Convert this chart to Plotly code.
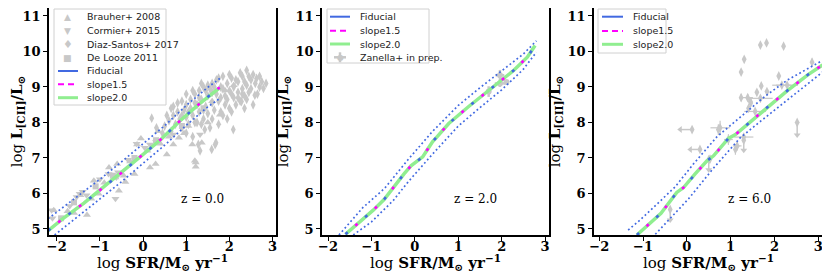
import plotly.graph_objects as go

# The page body keeps the browser's default 8px margin, so the figure is sized
# to fill the remaining 822x269 of the 830x277 window.
OFF = 8
W, H = 830 - OFF, 277 - OFF
GRAY = "#c8c8c8"
BLUE = "#4169E1"
MAG = "#FF00FF"
GREEN = "#90EE90"

# ---------------- model curves ----------------
# z = 0
mx0 = [-2.2, -1.85, -1.37, -0.93, -0.47, -0.02, 0.43, 0.84, 1.29, 1.74, 1.78]
my0 = [4.95, 5.30, 5.73, 6.16, 6.61, 7.08, 7.54, 8.03, 8.51, 8.96, 8.98]
ux0 = [-2.2, -1.5, -1.0, -0.5, 0.0, 0.5, 1.0, 1.5, 1.78]
uy0 = [5.29, 5.93, 6.40, 6.89, 7.40, 7.91, 8.48, 8.99, 9.24]
lx0 = [-2.05, -1.5, -1.0, -0.5, 0.0, 0.5, 1.0, 1.5, 1.78]
ly0 = [4.83, 5.36, 5.84, 6.33, 6.85, 7.36, 7.92, 8.44, 8.68]
# z = 2
mx2 = [-1.60, -1.14, -0.96, -0.71, -0.58, -0.35, -0.25, -0.09, 0.04, 0.18, 0.29,
       0.41, 0.52, 0.78, 1.24, 1.75, 2.28, 2.59, 2.77]
my2 = [4.85, 5.33, 5.53, 5.83, 6.04, 6.39, 6.55, 6.78, 6.90, 7.03, 7.24,
       7.46, 7.61, 7.97, 8.45, 8.95, 9.47, 9.84, 10.17]
ux2 = [-1.75, -1.2, -0.7, -0.16, 0.4, 1.0, 1.5, 2.0, 2.5, 2.8]
uy2 = [4.83, 5.60, 6.14, 6.95, 7.74, 8.48, 8.98, 9.45, 9.93, 10.30]
lx2 = [-1.42, -1.0, -0.5, -0.16, 0.4, 1.0, 1.5, 2.0, 2.5, 2.8]
ly2 = [4.83, 5.20, 5.80, 6.32, 7.10, 7.90, 8.42, 8.92, 9.50, 9.98]
# z = 6
mx6 = [-1.14, -1.02, -0.59, -0.23, -0.08, 0.19, 0.46, 0.61, 0.95, 1.11, 1.41,
       1.86, 2.29, 2.77, 3.1]
my6 = [4.83, 4.97, 5.44, 6.03, 6.16, 6.55, 6.92, 7.06, 7.55, 7.66, 7.98,
       8.45, 8.89, 9.35, 9.62]
ux6 = [-1.34, -1.07, -0.27, 0.15, 0.69, 1.22, 1.8, 2.29, 3.1]
uy6 = [4.97, 5.25, 6.18, 6.83, 7.60, 8.15, 8.75, 9.19, 9.75]
lx6 = [-0.72, 0.04, 0.6, 1.22, 1.7, 2.25, 2.7, 3.1]
ly6 = [4.85, 5.85, 6.70, 7.57, 8.05, 8.59, 9.02, 9.42]

# ---------------- observations, z = 0 ----------------
brauher_x = [-2.07, -1.30, -1.45, -1.14, -0.79, -0.60, -0.41, -0.56, -0.14, 0.29, 1.22,
             1.22, 0.83, 1.14, -1.03, -0.64, 1.20, 1.36, 1.78, 0.70, 0.16, -1.75, -1.6,
             -0.9, -0.3, -0.2, 0.1, 0.4, 0.55, 0.95, 1.05, -1.2, -0.45, 0.6, 1.5,
             1.6, 1.9, 2.1, 0.35, -0.05]
brauher_y = [5.53, 5.39, 5.95, 6.36, 6.73, 6.83, 6.32, 6.08, 7.38, 6.83, 6.87,
             6.75, 7.57, 7.38, 5.99, 6.45, 6.92, 7.43, 8.22, 7.38, 6.73, 5.50, 5.45,
             6.30, 6.90, 6.55, 7.20, 7.40, 7.10, 7.70, 7.90, 5.85, 6.50, 7.60, 8.00,
             8.60, 8.90, 9.05, 7.75, 7.55]
cormier_x = [-2.12, -2.10, -1.47, -1.54, -1.31, -0.62, -0.58, 0.04, 0.16, 0.70, 1.32,
             -0.15, -0.64, -1.4, -1.7, -1.0, -0.8, -0.35, 0.3]
cormier_y = [5.53, 5.30, 5.99, 5.90, 5.95, 6.45, 6.60, 7.29, 7.38, 7.66, 7.66,
             7.40, 5.85, 6.05, 5.65, 6.40, 6.55, 6.95, 7.45]
diaz_x = [0.2, 0.31, 0.45, 0.5, 0.6, 0.65, 0.7, 0.75, 0.8, 0.85, 0.9, 0.95, 1.0, 1.0,
          1.05, 1.1, 1.1, 1.15, 1.2, 1.2, 1.25, 1.3, 1.3, 1.35, 1.4, 1.4, 1.45, 1.5,
          1.5, 1.55, 1.6, 1.6, 1.65, 1.7, 1.7, 1.75, 1.8, 1.8, 1.85, 1.9, 1.9, 1.95,
          2.0, 2.0, 2.05, 2.1, 2.1, 2.15, 2.2, 2.2, 2.25, 2.3, 2.3, 2.35, 2.4, 2.4,
          2.45, 2.5, 2.55, 2.59, 2.63, 2.7, 2.79, 2.28, 2.09, 1.32, 1.59, 1.69, 1.43,
          1.55, 1.28, 1.67, 0.9, 0.7, 1.0, 1.15, 1.35, 1.95, 1.75,
          0.55, 0.65, 0.8, 0.9, 1.0, 1.05, 1.15, 1.2, 1.3, 1.35, 1.45, 1.5, 1.6, 1.65,
          1.75, 1.8, 1.85, 1.95, 2.0, 2.05, 2.15, 2.2, 2.25, 2.3, 2.35, 2.4, 2.45, 2.5,
          2.55, 2.6, 2.65, 2.7, 2.75, 2.85, 1.25, 1.4, 1.6, 1.85, 2.05, 2.35]
diaz_y = [8.12, 7.85, 7.70, 7.90, 8.05, 7.75, 8.20, 7.95, 8.30, 8.10, 7.85, 8.35, 8.15,
          8.50, 7.95, 8.40, 8.65, 8.20, 8.80, 8.00, 8.50, 8.30, 8.90, 8.65, 8.10, 9.00,
          8.45, 8.75, 8.25, 8.95, 8.55, 9.10, 8.35, 8.80, 9.20, 8.60, 9.00, 8.30, 9.30,
          8.75, 8.50, 9.10, 8.90, 8.40, 9.25, 8.70, 9.00, 8.50, 9.15, 8.85, 8.60, 9.30,
          8.95, 8.75, 9.47, 9.05, 8.85, 9.20, 8.50, 8.77, 9.24, 9.00, 8.96, 8.59, 7.80,
          7.20, 7.24, 7.43, 7.80, 7.85, 7.38, 7.38, 8.60, 8.45, 7.70, 7.60, 7.95, 8.10,
          7.95,
          8.20, 8.40, 8.55, 8.20, 8.80, 8.30, 8.90, 8.55, 8.70, 9.10, 8.90, 9.05, 8.85, 9.00,
          9.25, 8.70, 8.95, 8.65, 9.35, 8.80, 9.20, 8.70, 9.40, 8.80, 9.15, 8.65, 9.30, 8.95,
          9.35, 9.10, 8.80, 9.30, 9.15, 9.10, 8.00, 8.35, 8.10, 8.20, 8.30, 8.40]
delooze_x = [-1.9, -1.6, -1.1, -0.7, -0.2, 0.3, 0.9, 1.4]
delooze_y = [5.30, 5.75, 6.20, 6.50, 7.00, 7.50, 7.90, 8.40]

# ---------------- observations, z = 2 ----------------
zan_x = [1.70, 1.96, 1.96, 2.11]
zan_y = [8.87, 9.33, 9.10, 9.14]
zan_xerr = [0.05, 0.10, 0.12, 0.03]
zan_yerr = [0.15, 0.15, 0.10, 0.05]

# ---------------- observations, z = 6 ----------------
hz_x = [1.68, 1.82, 2.21, 1.31, 1.24, 2.10, 1.70, 1.60, 1.24, 1.39, 1.46, 2.29, 2.86,
        1.83, 0.76, 0.95, 1.11, 1.41, 1.45, 1.56, 1.68, 2.17, 0.53, 1.15, 0.72, 1.30]
hz_y = [10.18, 10.24, 10.15, 9.78, 9.42, 9.31, 9.03, 8.85, 8.70, 8.70, 8.55, 9.05, 9.70,
        8.87, 7.85, 7.52, 7.24, 8.40, 8.59, 8.31, 8.68, 9.05, 6.97, 7.34, 7.80, 7.59]
hz_xerr = [0, 0, 0, 0, 0, 0, 0, 0, 0, 0.12, 0, 0.25, 0,
           0, 0.22, 0.1, 0, 0, 0, 0.25, 0.28, 0.22, 0, 0.1, 0, 0.22]
hz_yerr = [0, 0, 0, 0, 0, 0, 0, 0, 0.1, 0.1, 0.1, 0, 0.1,
           0, 0.2, 0.15, 0.15, 0.1, 0.1, 0, 0, 0, 0.1, 0.12, 0.15, 0.1]
xlim_x = [0.12, 0.30]          # SFR upper limits (arrow to the left)
xlim_y = [7.80, 7.24]
xlim_len = [0.27, 0.22]
ylim_x = [-0.38, 0.50, 1.30, 2.52]   # [CII] upper limits (arrow down)
ylim_y = [5.55, 6.95, 7.50, 8.00]
ylim_len = [0.30, 0.28, 0.28, 0.35]

# ---------------- layout geometry (window pixels) ----------------
dom_px = [(49, 276), (322, 549), (594, 823)]
xranges = [(-2.18, 3.08), (-2.14, 3.09), (-2.12, 3.11)]
yrange = (4.83, 11.225)
ydom = [1 - (235 - OFF) / H, 1.0]
zlabels = ["z = 0.0", "z = 2.0", "z = 6.0"]
xtitle = "log <b>SFR/M<sub>⊙</sub> yr<sup>−1</sup></b>"
ytitle = "log <b>L<sub>[CII]</sub>/L<sub>⊙</sub></b>"

fig = go.Figure()


def ax(i):
    return ("x" if i == 0 else f"x{i+1}"), ("y" if i == 0 else f"y{i+1}")


def add_scatter(i, x, y, symbol, size, **kw):
    xa, ya = ax(i)
    fig.add_trace(go.Scatter(x=x, y=y, mode="markers", xaxis=xa, yaxis=ya, showlegend=False,
                             marker=dict(symbol=symbol, size=size, color=GRAY,
                                         line=dict(width=0)), **kw))


def add_model(i, mx, my, ux, uy, lx, ly):
    xa, ya = ax(i)
    for xs, ys in ((ux, uy), (lx, ly)):
        fig.add_trace(go.Scatter(x=xs, y=ys, mode="lines", xaxis=xa, yaxis=ya, showlegend=False,
                                 line=dict(color=BLUE, width=1.7, dash="1.8px,2.6px")))
    fig.add_trace(go.Scatter(x=mx, y=my, mode="lines", xaxis=xa, yaxis=ya, name="slope2.0",
                             showlegend=False, line=dict(color=GREEN, width=3.5)))
    fig.add_trace(go.Scatter(x=mx, y=my, mode="lines", xaxis=xa, yaxis=ya, name="Fiducial",
                             showlegend=False, line=dict(color=BLUE, width=2.6, dash="3px,23px")))
    fig.add_trace(go.Scatter(x=mx, y=my, mode="lines", xaxis=xa, yaxis=ya, name="slope1.5",
                             showlegend=False,
                             line=dict(color=MAG, width=2.6, dash="0px,13px,3px,10px")))


# panel 1 data
add_scatter(0, delooze_x, delooze_y, "square", 6, name="De Looze 2011")
add_scatter(0, brauher_x, brauher_y, "triangle-up", 7, name="Brauher+ 2008")
add_scatter(0, cormier_x, cormier_y, "triangle-down", 7, name="Cormier+ 2015")
add_scatter(0, diaz_x, diaz_y, "diamond-tall", 7, name="Diaz-Santos+ 2017")
add_model(0, mx0, my0, ux0, uy0, lx0, ly0)

# panel 2 data
add_scatter(1, zan_x, zan_y, "circle", 6, name="Zanella+ in prep.",
            error_x=dict(type="data", array=zan_xerr, color=GRAY, thickness=2.5, width=0),
            error_y=dict(type="data", array=zan_yerr, color=GRAY, thickness=2.5, width=0))
add_model(1, mx2, my2, ux2, uy2, lx2, ly2)

# panel 3 data
add_scatter(2, hz_x, hz_y, "diamond-tall", 7,
            error_x=dict(type="data", array=hz_xerr, color=GRAY, thickness=1.2, width=0),
            error_y=dict(type="data", array=hz_yerr, color=GRAY, thickness=1.2, width=0))
add_scatter(2, xlim_x, xlim_y, "diamond-tall", 7,
            error_x=dict(type="data", symmetric=False, array=[0] * len(xlim_x),
                         arrayminus=xlim_len, color=GRAY, thickness=1.5, width=0))
add_scatter(2, [a - b for a, b in zip(xlim_x, xlim_len)], xlim_y, "triangle-left", 6)
add_scatter(2, ylim_x, ylim_y, "diamond-tall", 7,
            error_y=dict(type="data", symmetric=False, array=[0] * len(ylim_x),
                         arrayminus=ylim_len, color=GRAY, thickness=1.5, width=0))
add_scatter(2, ylim_x, [a - b for a, b in zip(ylim_y, ylim_len)], "triangle-down", 6)
add_model(2, mx6, my6, ux6, uy6, lx6, ly6)

# ---------------- axes ----------------
tickfont = dict(family="DejaVu Serif", size=13, color="black", weight="bold")
titlefont = dict(family="DejaVu Serif", size=15, color="black")
layout = {}
for i in range(3):
    xa, ya = ax(i)
    xk = "xaxis" if i == 0 else f"xaxis{i+1}"
    yk = "yaxis" if i == 0 else f"yaxis{i+1}"
    l, r = dom_px[i]
    layout[xk] = dict(domain=[(l - OFF) / W, min((r - OFF) / W, 1.0)], range=list(xranges[i]),
                      anchor=ya, tickvals=[-2, -1, 0, 1, 2, 3], showline=True,
                      linecolor="black", linewidth=1.5, mirror=True, ticks="outside",
                      ticklen=4, tickwidth=1.2, tickcolor="black", showgrid=False,
                      zeroline=False, tickfont=tickfont, automargin=False,
                      ticklabelstandoff=-5, ticklabeloverflow="allow")
    layout[yk] = dict(domain=ydom, range=list(yrange), anchor=xa,
                      tickvals=[5, 6, 7, 8, 9, 10, 11], showline=True, linecolor="black",
                      linewidth=1.5, mirror=True, ticks="outside", ticklen=4, tickwidth=1.2,
                      tickcolor="black", showgrid=False, zeroline=False, tickfont=tickfont,
                      automargin=False, ticklabeloverflow="allow",
                      title=dict(text=ytitle, font=titlefont, standoff=3))

annotations = []
for i in range(3):
    xa, ya = ax(i)
    annotations.append(dict(text=zlabels[i], xref=f"{xa} domain", yref=f"{ya} domain",
                            x=0.78, y=0.12, showarrow=False,
                            font=dict(family="DejaVu Serif", size=12, color="black")))
    # x-axis title, placed just under the tick labels
    annotations.append(dict(text=xtitle, xref=f"{xa} domain", yref="paper",
                            x=0.5, y=1 - (262 - OFF) / H, xanchor="center", yanchor="middle",
                            showarrow=False, font=titlefont))

# ---------------- legends (drawn like matplotlib's compact legend) ----------------
shapes = []


def px(xp, yp):
    return (xp - OFF) / W, 1 - (yp - OFF) / H


def legend_box(x0, y0, x1, y1):
    a = px(x0, y0)
    b = px(x1, y1)
    shapes.append(dict(type="rect", xref="paper", yref="paper", x0=a[0], x1=b[0], y0=b[1],
                       y1=a[1], line=dict(color="#d0d0d0", width=1),
                       fillcolor="rgba(255,255,255,0.85)", layer="above"))


def legend_line(x0, x1, yrow, color, width, dash="solid"):
    a = px(x0, yrow)
    b = px(x1, yrow)
    shapes.append(dict(type="line", xref="paper", yref="paper", x0=a[0], x1=b[0], y0=a[1],
                       y1=b[1], line=dict(color=color, width=width, dash=dash), layer="above"))


def legend_text(xp, yrow, text):
    a = px(xp, yrow)
    annotations.append(dict(text=text, xref="paper", yref="paper", x=a[0], y=a[1],
                            xanchor="left", yanchor="middle", showarrow=False,
                            font=dict(family="DejaVu Sans", size=9.5, color="#222222")))


def legend_marker(xp, yrow, glyph, size=10):
    a = px(xp, yrow)
    annotations.append(dict(text=glyph, xref="paper", yref="paper", x=a[0], y=a[1],
                            xanchor="center", yanchor="middle", showarrow=False,
                            font=dict(family="DejaVu Sans", size=size, color=GRAY)))


line_entries = [("Fiducial", BLUE, 2, "solid"), ("slope1.5", MAG, 2, "6px,4px"),
                ("slope2.0", GREEN, 3, "solid")]

# panel 1
legend_box(54, 9, 166, 105)
rows1 = [16.7, 31, 44.3, 57.7, 71, 84.3, 97.7]
mk1 = [("▲", "Brauher+ 2008", 9), ("▼", "Cormier+ 2015", 9), ("♦", "Diaz-Santos+ 2017", 11),
       ("■", "De Looze 2011", 9)]
for (g, t, s), yr in zip(mk1, rows1[:4]):
    legend_marker(68, yr, g, s)
    legend_text(85, yr, t)
for (t, c, w, d), yr in zip(line_entries, rows1[4:]):
    legend_line(58, 78, yr, c, w, d)
    legend_text(85, yr, t)

# panel 2
legend_box(327, 9, 429, 63)
rows2 = [16.7, 30.7, 44, 57.3]
for (t, c, w, d), yr in zip(line_entries, rows2[:3]):
    legend_line(330, 350, yr, c, w, d)
    legend_text(358, yr, t)
legend_line(334, 346, rows2[3], GRAY, 2.5)
za = px(340, rows2[3] + 5)
zb = px(340, rows2[3] - 5)
shapes.append(dict(type="line", xref="paper", yref="paper", x0=za[0], x1=zb[0],
                   y0=za[1], y1=zb[1], line=dict(color=GRAY, width=2.5), layer="above"))
legend_marker(340, rows2[3], "●", 8)
legend_text(358, rows2[3], "Zanella+ in prep.")

# panel 3
legend_box(598, 9, 666, 53)
rows3 = [16.7, 31, 44.3]
for (t, c, w, d), yr in zip(line_entries, rows3):
    legend_line(602, 623, yr, c, w, d)
    legend_text(631, yr, t)

fig.update_layout(width=W, height=H, margin=dict(l=0, r=0, t=0, b=0, autoexpand=False),
                  plot_bgcolor="white", paper_bgcolor="white", showlegend=False,
                  annotations=annotations, shapes=shapes, **layout)

fig.write_html("out.html")
